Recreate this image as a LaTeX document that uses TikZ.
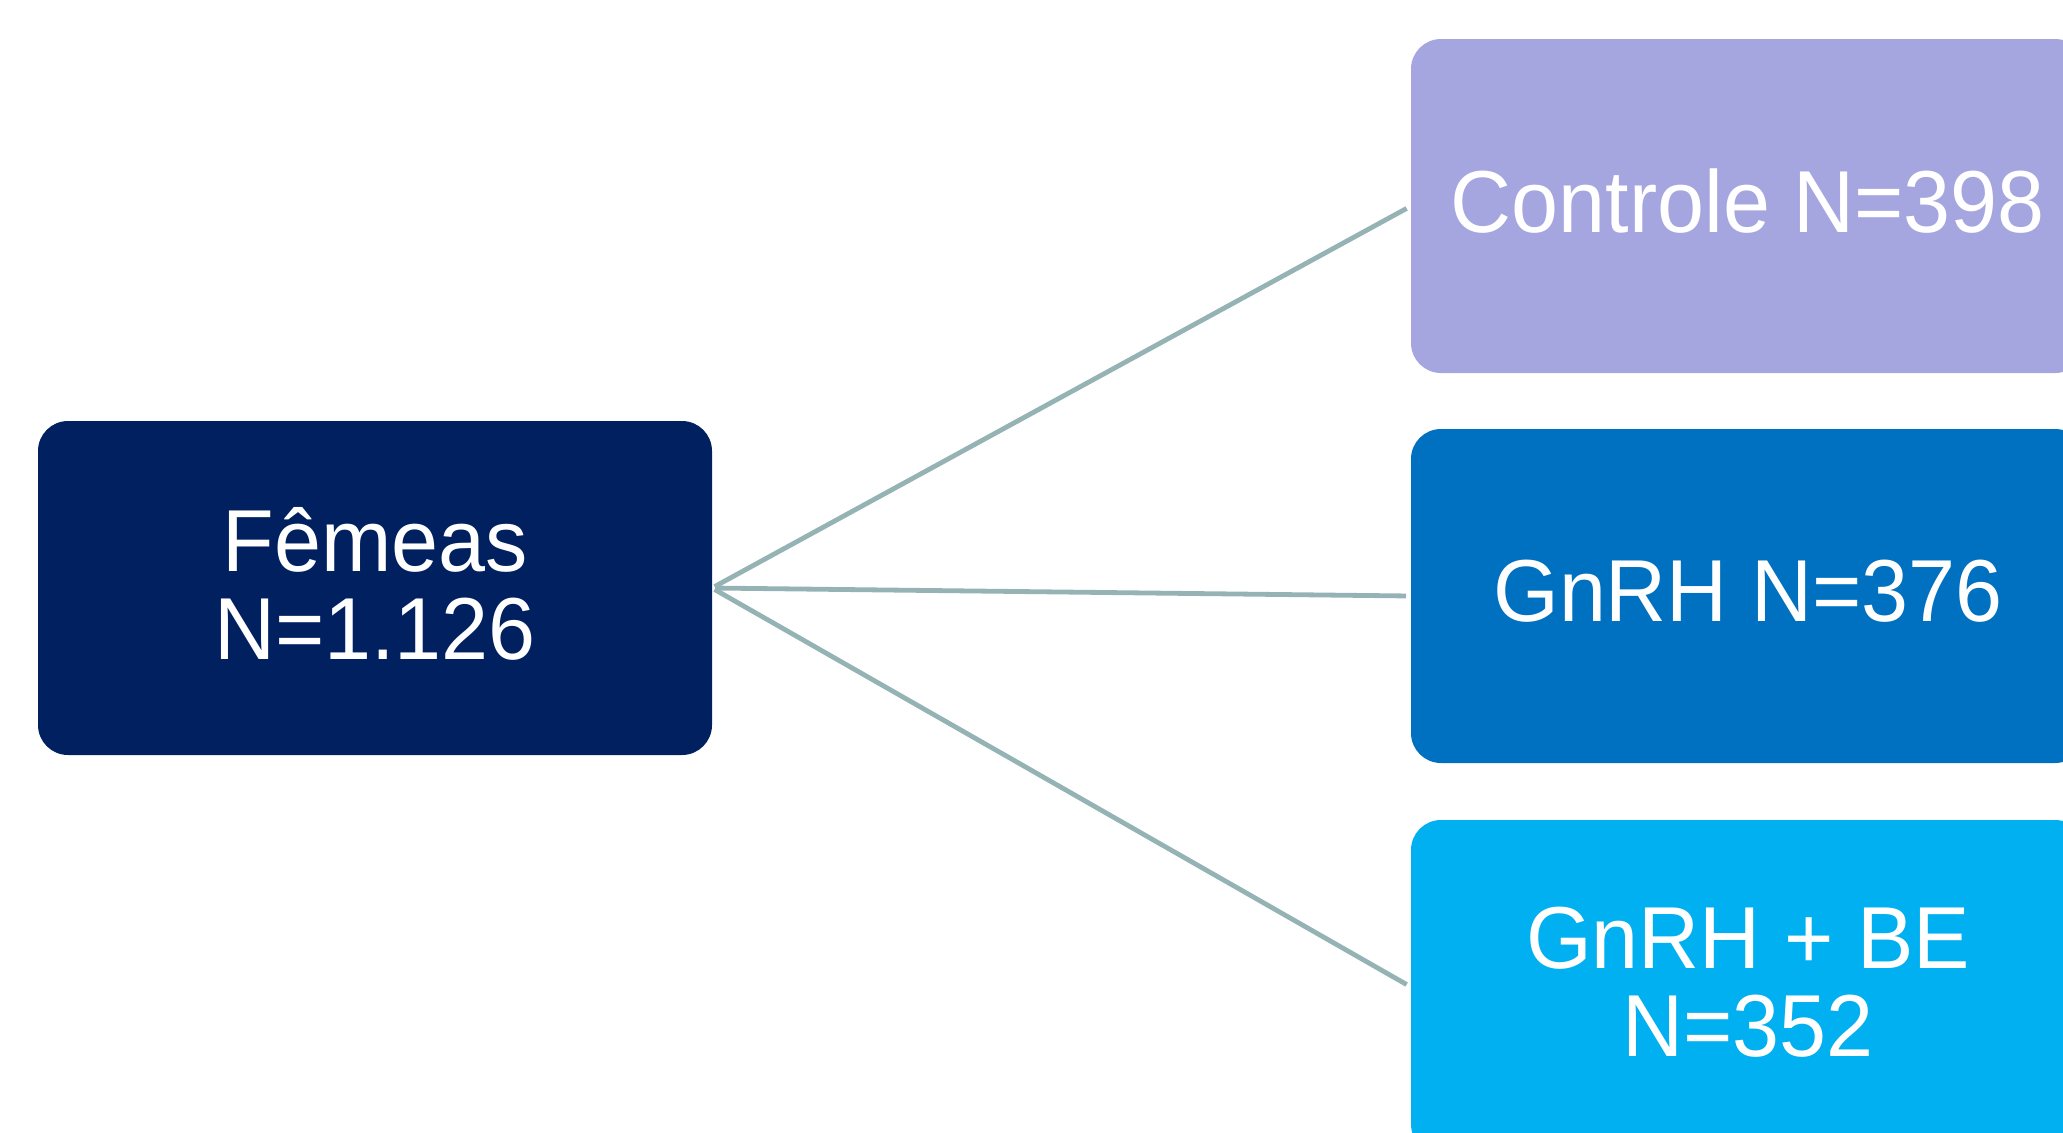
\documentclass[tikz,border=0pt]{standalone}
\usepackage{fontspec}
\setmainfont{Liberation Sans}[FakeStretch=0.96]
\definecolor{navy}{HTML}{002060}
\definecolor{lav}{HTML}{A5A5DF}
\definecolor{midblue}{HTML}{0070C0}
\definecolor{skyblue}{HTML}{00B0F0}
\definecolor{linkc}{HTML}{95B3B5}
\begin{document}
\begin{tikzpicture}[x=0.5pt,y=-0.5pt,
  box/.style={rounded corners=15pt, minimum width=337pt, minimum height=167pt,
    inner sep=0pt, outer sep=0pt, text=white, align=center, text depth=5pt,
    font=\fontsize{44}{44}\selectfont},
  link/.style={draw=linkc, line width=2.4pt, shorten <=1.5pt, shorten >=2.5pt}]
\useasboundingbox (0,0) rectangle (2063,1132);
\clip (0,0) rectangle (2063,1132);
\node[box, fill=navy] (f) at (375,588) {Fêmeas\\N=1.126};
\node[box, fill=lav] (c) at (1748,206) {Controle N=398};
\node[box, fill=midblue] (g) at (1748,596) {GnRH N=376};
\node[box, fill=skyblue] (b) at (1748,987) {GnRH + BE\\N=352};
\draw[link] (f.east) -- (c.west);
\draw[link] (f.east) -- (g.west);
\draw[link] (f.east) -- (b.west);
\end{tikzpicture}
\end{document}
